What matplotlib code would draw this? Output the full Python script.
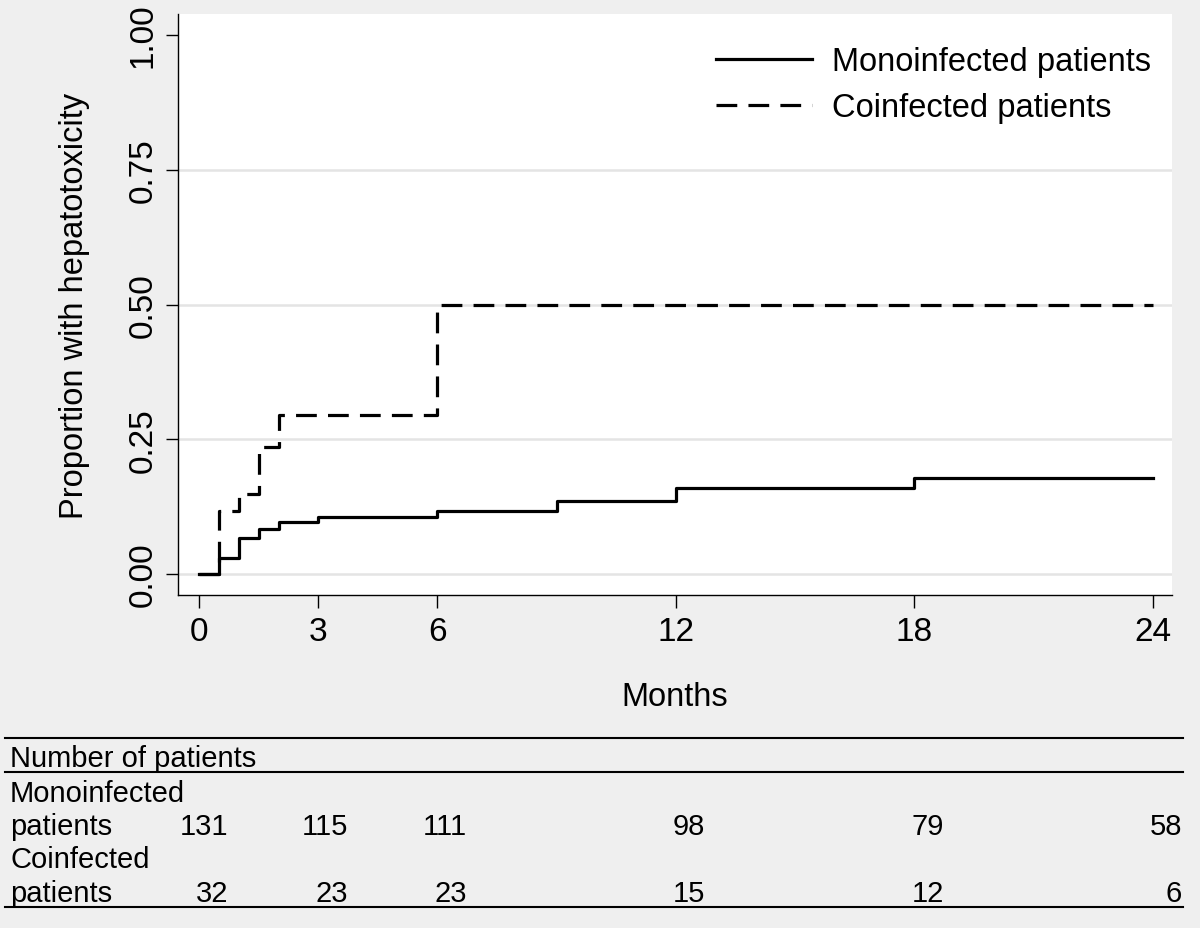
import matplotlib
matplotlib.use("Agg")
import matplotlib.pyplot as plt
from matplotlib.lines import Line2D
from matplotlib import transforms

plt.rcParams['font.family'] = ['Liberation Sans', 'DejaVu Sans']

# Kaplan-Meier style cumulative incidence
mono_t = [0, 0.5, 1, 1.5, 2, 3, 6, 9, 12, 18, 24]
mono_p = [0, 0.029, 0.066, 0.083, 0.097, 0.106, 0.116, 0.135, 0.159, 0.178, 0.178]
co_t = [0, 0.5, 1, 1.5, 2, 6, 24]
co_p = [0, 0.116, 0.148, 0.235, 0.295, 0.5, 0.5]

# numbers at risk
risk_times = [0, 3, 6, 12, 18, 24]
risk_mono = [131, 115, 111, 98, 79, 58]
risk_co = [32, 23, 23, 15, 12, 6]

W, H = 1200, 929
bg = '#efefef'
fig = plt.figure(figsize=(W / 100, H / 100), dpi=100, facecolor=bg)

ax = fig.add_axes([177.7 / W, 1 - 596 / H, (1172 - 177.7) / W, (596 - 15) / H])
ax.set_facecolor('white')

for yv in [0, 0.25, 0.5, 0.75]:
    ax.axhline(yv, color='#e4e4e4', lw=1.8, zorder=0)

ax.step(mono_t, mono_p, where='post', color='black', lw=2.3,
        label='Monoinfected patients')
ax.step(co_t, co_p, where='post', color='black', lw=2.3,
        dashes=(6.5, 3.5), label='Coinfected patients')

ax.set_xlim(-0.54, 24.49)
ax.set_ylim(-0.039, 1.039)
ax.set_xticks(risk_times)
ax.set_yticks([0, 0.25, 0.5, 0.75, 1.0])
ax.set_yticklabels(['0.00', '0.25', '0.50', '0.75', '1.00'], rotation=90, va='center')

for s in ['top', 'right']:
    ax.spines[s].set_visible(False)
for s in ['left', 'bottom']:
    ax.spines[s].set_linewidth(1.0)
ax.tick_params(axis='both', direction='out', length=9, width=1.0, labelsize=24)
ax.tick_params(axis='y', pad=5)
ax.tick_params(axis='x', pad=6)

fig.text(75 / W, 1 - 305.5 / H, 'Proportion with hepatotoxicity', rotation=90,
         ha='center', va='center', fontsize=23.5)
fig.text(675 / W, 1 - 697.5 / H, 'Months', ha='center', va='center', fontsize=23.5)

leg = ax.legend(loc='upper right', bbox_to_anchor=(1180 / W, 1 - 18 / H),
                bbox_transform=fig.transFigure, frameon=False, fontsize=23.5,
                handlelength=2.95, handletextpad=0.6, labelspacing=0.45)

# number at risk table
for yl in [739, 773, 908]:
    fig.add_artist(Line2D([5 / W, 1183 / W], [1 - yl / H, 1 - yl / H],
                          transform=fig.transFigure, color='black', lw=1.5))

fs = 21
fig.text(10 / W, 1 - 766.7 / H, 'Number of patients', fontsize=fs, va='baseline')
fig.text(10 / W, 1 - 801.7 / H, 'Monoinfected', fontsize=fs, va='baseline')
fig.text(10 / W, 1 - 835 / H, 'patients', fontsize=fs, va='baseline')
fig.text(10 / W, 1 - 868.3 / H, 'Coinfected', fontsize=fs, va='baseline')
fig.text(10 / W, 1 - 901.7 / H, 'patients', fontsize=fs, va='baseline')

blend = transforms.blended_transform_factory(ax.transData, fig.transFigure)
shift = transforms.ScaledTranslation(29.5 / 100, 0, fig.dpi_scale_trans)
for t, m, c in zip(risk_times, risk_mono, risk_co):
    fig.text(t, 1 - 835 / H, str(m), fontsize=fs, ha='right', va='baseline',
             transform=blend + shift)
    fig.text(t, 1 - 901.7 / H, str(c), fontsize=fs, ha='right', va='baseline',
             transform=blend + shift)

fig.savefig('out.png', dpi=100, facecolor=bg)
